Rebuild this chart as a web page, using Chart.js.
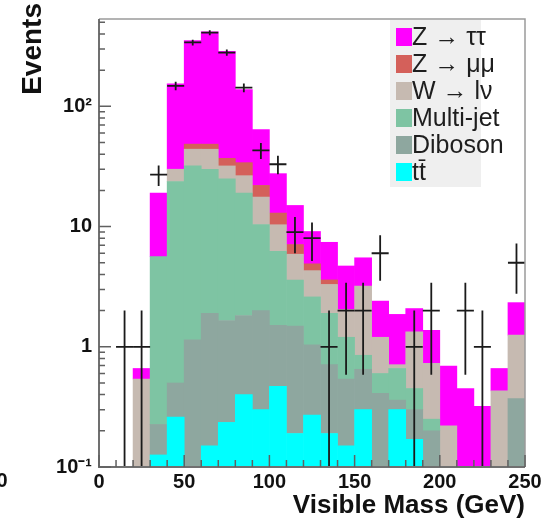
<!DOCTYPE html>
<html>
<head>
<meta charset="utf-8">
<script src="https://cdn.jsdelivr.net/npm/chart.js@4.4.1/dist/chart.umd.min.js"></script>
<style>
  html, body { margin: 0; padding: 0; background: #fff; }
</style>
</head>
<body>
<canvas id="massChart" width="548" height="530"></canvas>
<script>
// visible mass, 10 GeV bins from 0 to 250
const binCenters = [5, 15, 25, 35, 45, 55, 65, 75, 85, 95, 105, 115, 125,
                    135, 145, 155, 165, 175, 185, 195, 205, 215, 225, 235, 245];
const binHalfWidth = 5;

// stacked backgrounds, bottom to top
const ttbar    = [0, 0, 0, 0.126, 0.26, 0, 0.15, 0.235, 0.40, 0.30, 0.47, 0.19, 0.27,
                  0.19, 0.15, 0.30, 0, 0.30, 0.17, 0, 0, 0, 0, 0, 0];
const diboson  = [0, 0, 0, 0.10, 0.24, 1.14, 1.75, 1.42, 1.42, 1.70, 1.04, 1.30, 0.77,
                  0.52, 0.39, 0.35, 0.41, 0.06, 0.13, 0.20, 0.10, 0, 0, 0, 0.37];
const multiJet = [0, 0, 0, 5.4, 23.2, 30.9, 28.1, 23.3, 17.2, 8.4, 4.7, 2.1, 1.56,
                  1.19, 0.66, 0.20, 0.19, 0.30, 0.15, 0.05, 0, 0, 0, 0, 0];
const wLnu     = [0, 0, 0.54, 0, 6.3, 12, 14, 7, 7.5, 7.2, 4.15, 2.3, 1.7,
                  1.4, 0.84, 2.35, 0.6, 0.05, 0.88, 0.48, 0.12, 0, 0, 0.43, 0.88];
const zMuMu    = [0, 0, 0, 0, 0, 4.5, 4.5, 5, 7.5, 4.4, 2.6, 1.2, 0.6,
                  0.3, 0, 0, 0, 0, 0, 0, 0, 0, 0, 0, 0];
const zTauTau  = [0, 0, 0.12, 13.4, 124, 303.5, 368.5, 250, 104, 42, 14.6, 7.9, 4.2,
                  3.8, 2.66, 2.3, 1.2, 1.15, 0.75, 0.64, 0.47, 0.45, 0.32, 0.23, 1.08];

// observed events per bin
const dataEvents = [0, 1, 1, 27, 148, 340, 410, 280, 143, 43, 33, 9, 8,
                    1, 2, 2, 6, 0, 1, 2, 0, 2, 1, 0, 5];

const xTicks = [0, 10, 20, 30, 40, 50, 60, 70, 80, 90, 100, 110, 120, 130, 140,
                150, 160, 170, 180, 190, 200, 210, 220, 230, 240, 250];
const xLabels = { 0: '0', 50: '50', 100: '100', 150: '150', 200: '200', 250: '250' };
const yTicks = [0.1, 0.2, 0.3, 0.4, 0.5, 0.6, 0.7, 0.8, 0.9,
                1, 2, 3, 4, 5, 6, 7, 8, 9,
                10, 20, 30, 40, 50, 60, 70, 80, 90,
                100, 200, 300, 400, 500];
const yLabels = { 0.1: '10⁻¹', 1: '1', 10: '10', 100: '10²' };

const samples = [
    { label: 'tt\u0304',  values: ttbar,    color: '#00ffff' },
    { label: 'Diboson',   values: diboson,  color: '#8ea79f' },
    { label: 'Multi-jet', values: multiJet, color: '#7ec4a3' },
    { label: 'W → lν',    values: wLnu,     color: '#c6bab1' },
    { label: 'Z → μμ',    values: zMuMu,    color: '#d4605a' },
    { label: 'Z → ττ',    values: zTauTau,  color: '#ff00ff' }
];

const FONT = "'Liberation Sans', Arial, Helvetica, sans-serif";

const histDecor = {
    id: 'histDecor',
    afterDatasetsDraw(chart) {
        const { ctx, chartArea: a, scales: { x, y } } = chart;
        ctx.save();

        // data with poisson errors
        ctx.strokeStyle = '#1a1a1a';
        ctx.lineWidth = 1.8;
        dataEvents.forEach((n, i) => {
            if (!n) return;
            const c = binCenters[i];
            const err = Math.sqrt(n);
            const px = x.getPixelForValue(c);
            const py = y.getPixelForValue(n);
            const lo = (n - err) > y.min ? y.getPixelForValue(n - err) : a.bottom;
            const hi = y.getPixelForValue(n + err);
            ctx.beginPath();
            ctx.moveTo(px, lo);
            ctx.lineTo(px, hi);
            ctx.moveTo(x.getPixelForValue(c - binHalfWidth), py);
            ctx.lineTo(x.getPixelForValue(c + binHalfWidth), py);
            ctx.stroke();
        });

        // frame
        ctx.strokeStyle = '#9a9a9a';
        ctx.lineWidth = 1.5;
        ctx.beginPath();
        ctx.moveTo(a.left, a.top); ctx.lineTo(a.right, a.top); ctx.lineTo(a.right, a.bottom);
        ctx.stroke();
        ctx.strokeStyle = '#707070';
        ctx.lineWidth = 2;
        ctx.beginPath();
        ctx.moveTo(a.left, a.top); ctx.lineTo(a.left, a.bottom); ctx.lineTo(a.right, a.bottom);
        ctx.stroke();

        // ticks pointing inwards
        ctx.strokeStyle = '#606060';
        ctx.lineWidth = 1.5;
        ctx.beginPath();
        x.ticks.forEach(t => {
            const px = x.getPixelForValue(t.value);
            const len = xLabels[t.value] !== undefined ? 12 : 7;
            ctx.moveTo(px, a.bottom);
            ctx.lineTo(px, a.bottom - len);
        });
        y.ticks.forEach(t => {
            const py = y.getPixelForValue(t.value);
            const len = yLabels[t.value] !== undefined ? 12 : 6;
            ctx.moveTo(a.left, py);
            ctx.lineTo(a.left + len, py);
        });
        ctx.stroke();

        // legend
        ctx.fillStyle = '#efefef';
        ctx.fillRect(390, 20, 91, 167);
        ctx.font = '25px ' + FONT;
        ctx.textBaseline = 'middle';
        ctx.textAlign = 'left';
        samples.slice().reverse().forEach((s, i) => {
            const cy = 37 + i * 27;
            ctx.fillStyle = s.color;
            ctx.fillRect(396, cy - 9, 16, 18);
            ctx.fillStyle = '#1e1e1e';
            ctx.fillText(s.label, 412, cy + 1);
        });

        // y title, right aligned at the top like ROOT
        ctx.save();
        ctx.translate(33, 3);
        ctx.rotate(-Math.PI / 2);
        ctx.font = 'bold 28px ' + FONT;
        ctx.textAlign = 'right';
        ctx.textBaseline = 'middle';
        ctx.fillStyle = '#111';
        ctx.fillText('Events', 0, 0);
        ctx.restore();

        // stray label of the neighbouring pad
        ctx.font = 'bold 20px ' + FONT;
        ctx.textAlign = 'center';
        ctx.textBaseline = 'middle';
        ctx.fillStyle = '#111';
        ctx.fillText('0', 2, 481);

        ctx.restore();
    }
};

new Chart(document.getElementById('massChart'), {
    type: 'bar',
    data: {
        datasets: samples.map(s => ({
            label: s.label,
            data: binCenters.map((c, i) => ({ x: c, y: s.values[i] })),
            backgroundColor: s.color,
            borderWidth: 0,
            barPercentage: 1,
            categoryPercentage: 1
        }))
    },
    options: {
        responsive: false,
        animation: false,
        devicePixelRatio: 1,
        layout: { padding: { left: 0, right: 23, top: 10, bottom: 0 } },
        plugins: { legend: { display: false }, tooltip: { enabled: false } },
        scales: {
            x: {
                type: 'linear', min: 0, max: 250, offset: false, stacked: true,
                grid: { display: false, drawTicks: false }, border: { display: false },
                afterBuildTicks: s => { s.ticks = xTicks.map(v => ({ value: v })); },
                afterFit: s => { s.height = 63; },
                ticks: {
                    autoSkip: false, maxRotation: 0, padding: 3, color: '#111',
                    font: { family: FONT, size: 20, weight: 'bold' },
                    callback: v => xLabels[v] !== undefined ? xLabels[v] : ''
                },
                title: {
                    display: true, text: 'Visible Mass (GeV)', align: 'end', color: '#111',
                    font: { family: FONT, size: 26, weight: 'bold' },
                    padding: { top: 0, bottom: 9 }
                }
            },
            y: {
                type: 'logarithmic', min: 0.1, max: 533, stacked: true,
                grid: { display: false, drawTicks: false }, border: { display: false },
                afterBuildTicks: s => { s.ticks = yTicks.map(v => ({ value: v })); },
                afterFit: s => { s.width = 99; },
                ticks: {
                    autoSkip: false, padding: 7, color: '#111',
                    font: { family: FONT, size: 20, weight: 'bold' },
                    callback: v => yLabels[v] !== undefined ? yLabels[v] : ''
                }
            }
        }
    },
    plugins: [histDecor]
});
</script>
</body>
</html>
